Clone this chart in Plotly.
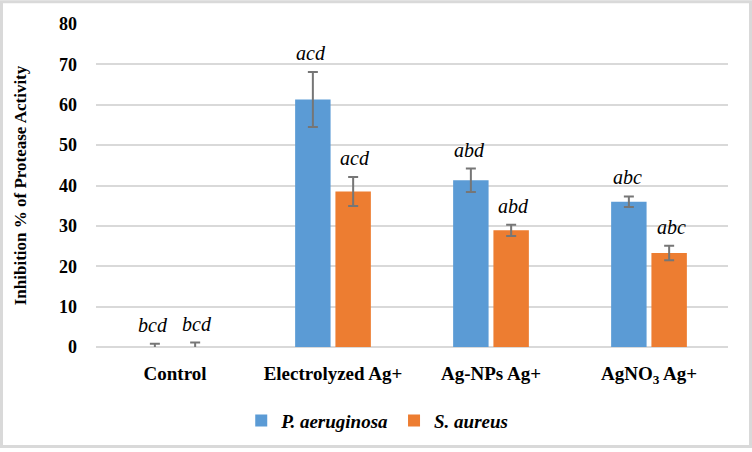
import plotly.graph_objects as go

categories = ["Control", "Electrolyzed Ag+", "Ag-NPs Ag+", "AgNO<sub>3</sub> Ag+"]
p_aeruginosa = [0.0, 61.3, 41.3, 36.0]
p_aeruginosa_err = [0.8, 6.8, 2.9, 1.3]
s_aureus = [0.0, 38.5, 28.9, 23.3]
s_aureus_err = [1.1, 3.6, 1.4, 1.8]
p_letters = ["bcd", "acd", "abd", "abc"]
s_letters = ["bcd", "acd", "abd", "abc"]

FONT = "Liberation Serif, Times New Roman, serif"
W, H = 752, 452
ML, MR, MT, MB = 96, 24, 24, 102
PW, PH = W - ML - MR, H - MT - MB

fig = go.Figure()
fig.add_trace(go.Bar(
    name="<i>P. aeruginosa</i>", x=categories, y=p_aeruginosa,
    marker=dict(color="#5B9BD5", line=dict(width=0)),
    error_y=dict(type="data", array=p_aeruginosa_err, visible=True,
                 color="#767676", thickness=2, width=5),
))
fig.add_trace(go.Bar(
    name="<i>S. aureus</i>", x=categories, y=s_aureus,
    marker=dict(color="#ED7D31", line=dict(width=0)),
    error_y=dict(type="data", array=s_aureus_err, visible=True,
                 color="#767676", thickness=2, width=5),
))

annotations = []
for i, c in enumerate(categories):
    for vals, errs, letters, shift in ((p_aeruginosa, p_aeruginosa_err, p_letters, -22),
                                       (s_aureus, s_aureus_err, s_letters, 22)):
        annotations.append(dict(
            x=c, y=vals[i] + errs[i], xref="x", yref="y", text="<i>" + letters[i] + "</i>",
            showarrow=False, xshift=shift, yshift=6, yanchor="bottom",
            font=dict(family=FONT, size=20, color="#000000"),
        ))

fig.update_layout(
    width=W, height=H,
    margin=dict(l=ML, r=MR, t=MT, b=MB),
    paper_bgcolor="white", plot_bgcolor="white",
    barmode="group", bargap=0.49, bargroupgap=0.12,
    font=dict(family=FONT, color="#000000"),
    showlegend=True,
    legend=dict(orientation="h", x=0.445, xanchor="center", y=-0.228, yanchor="middle",
                font=dict(family=FONT, size=19, color="#000000", weight="bold"),
                itemwidth=30, traceorder="normal"),
    annotations=annotations,
    shapes=[dict(type="rect", xref="paper", yref="paper",
                 x0=-(ML - 1.5) / PW, x1=1 + (MR - 1.5) / PW,
                 y0=-(MB - 1.5) / PH, y1=1 + (MT - 1.5) / PH,
                 line=dict(color="#D9D9D9", width=3), layer="below")],
)
fig.update_xaxes(
    showgrid=False, showline=False, ticks="",
    tickfont=dict(family=FONT, size=19, color="#000000", weight="bold"),
    ticklabelstandoff=13,
)
fig.update_yaxes(
    range=[0, 80], dtick=10, showgrid=True, gridcolor="#D9D9D9", gridwidth=1.5,
    zeroline=True, zerolinecolor="#D9D9D9", zerolinewidth=1.5,
    showline=False, ticks="",
    tickfont=dict(family=FONT, size=18, color="#000000", weight="bold"),
    ticklabelstandoff=18,
    title=dict(text="Inhibition % of Protease Activity", standoff=28,
               font=dict(family=FONT, size=17, color="#000000", weight="bold")),
)

fig.write_html("out.html")
